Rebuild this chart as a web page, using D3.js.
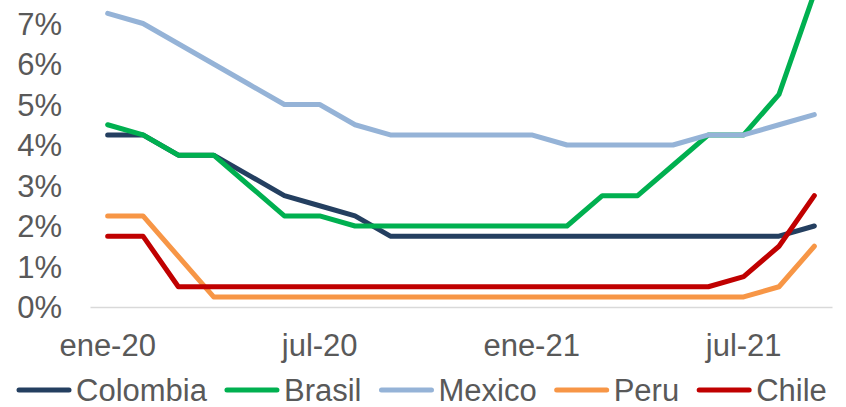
<!DOCTYPE html>
<html>
<head>
<meta charset="utf-8">
<script src="https://cdn.jsdelivr.net/npm/d3@7"></script>
<style>
  html, body { margin: 0; padding: 0; background: #fff; }
  svg { display: block; font-family: "Liberation Sans", Arial, sans-serif; }
</style>
</head>
<body>
<svg id="chart" width="846" height="407"></svg>
<script>
// Monthly policy rates, Jan 2020 – Sep 2021 (%)
const months = ["ene-20","feb-20","mar-20","abr-20","may-20","jun-20","jul-20","ago-20","sep-20","oct-20","nov-20","dic-20",
                "ene-21","feb-21","mar-21","abr-21","may-21","jun-21","jul-21","ago-21","sep-21"];
const colombia = [4.25,4.25,3.75,3.75,3.25,2.75,2.5,2.25,1.75,1.75,1.75,1.75,1.75,1.75,1.75,1.75,1.75,1.75,1.75,1.75,2.0];
const brasil   = [4.5,4.25,3.75,3.75,3.0,2.25,2.25,2.0,2.0,2.0,2.0,2.0,2.0,2.0,2.75,2.75,3.5,4.25,4.25,5.25,7.75];
const mexico   = [7.25,7.0,6.5,6.0,5.5,5.0,5.0,4.5,4.25,4.25,4.25,4.25,4.25,4.0,4.0,4.0,4.0,4.25,4.25,4.5,4.75];
const peru     = [2.25,2.25,1.25,0.25,0.25,0.25,0.25,0.25,0.25,0.25,0.25,0.25,0.25,0.25,0.25,0.25,0.25,0.25,0.25,0.5,1.5];
const chile    = [1.75,1.75,0.5,0.5,0.5,0.5,0.5,0.5,0.5,0.5,0.5,0.5,0.5,0.5,0.5,0.5,0.5,0.5,0.75,1.5,2.75];

const seriesNames = ["Colombia","Brasil","Mexico","Peru","Chile"];
const seriesColors = ["#243F60","#00B050","#95B3D7","#F79646","#C00000"];
const seriesValues = [colombia, brasil, mexico, peru, chile];

const xTickLabels = ["ene-20","jul-20","ene-21","jul-21"];
const yTickValues = [0,1,2,3,4,5,6,7];

const svg = d3.select("#chart");
const font = 31;
const textColor = "#595959";

const x = d3.scaleBand().domain(months).range([90, 832]);
const y = d3.scaleLinear().domain([0, 8]).range([307, 307 - 8 * 40.5]);
const cx = m => x(m) + x.bandwidth() / 2;

// Y axis labels
const yAxis = d3.axisLeft(y).tickValues(yTickValues).tickFormat(d => d + "%").tickSize(0).tickPadding(0);
const gy = svg.append("g").attr("transform", "translate(62,0)").call(yAxis);
gy.select(".domain").remove();
gy.selectAll("text").attr("font-size", font).attr("fill", textColor)
  .attr("font-family", "Liberation Sans, Arial, sans-serif").attr("dy", "0.35em");

// X axis: baseline and category labels
const xAxis = d3.axisBottom(x).tickValues(xTickLabels).tickSize(0).tickPadding(0);
const gx = svg.append("g").attr("transform", "translate(0,307)").call(xAxis);
gx.select(".domain").attr("stroke", "#D9D9D9").attr("stroke-width", 1.5);
gx.selectAll("text").attr("font-size", font).attr("fill", textColor)
  .attr("font-family", "Liberation Sans, Arial, sans-serif").attr("dy", null).attr("y", 49);

// Series lines
const line = d3.line().x((d, i) => cx(months[i])).y(d => y(d));
seriesValues.forEach((vals, k) => {
  svg.append("path").datum(vals)
    .attr("d", line)
    .attr("fill", "none")
    .attr("stroke", seriesColors[k])
    .attr("stroke-width", 5)
    .attr("stroke-linejoin", "round")
    .attr("stroke-linecap", "round");
});

// Legend
const legend = svg.append("g").attr("transform", "translate(0,390)");
let lx = 17;
seriesNames.forEach((name, k) => {
  legend.append("line")
    .attr("x1", lx + 2).attr("x2", lx + 52).attr("y1", 0).attr("y2", 0)
    .attr("stroke", seriesColors[k]).attr("stroke-width", 5).attr("stroke-linecap", "round");
  const t = legend.append("text")
    .attr("x", lx + 59).attr("y", 0).attr("dy", "0.35em")
    .attr("font-size", font).attr("fill", textColor)
    .text(name);
  lx += 59 + t.node().getComputedTextLength() + 18;
});
</script>
</body>
</html>
